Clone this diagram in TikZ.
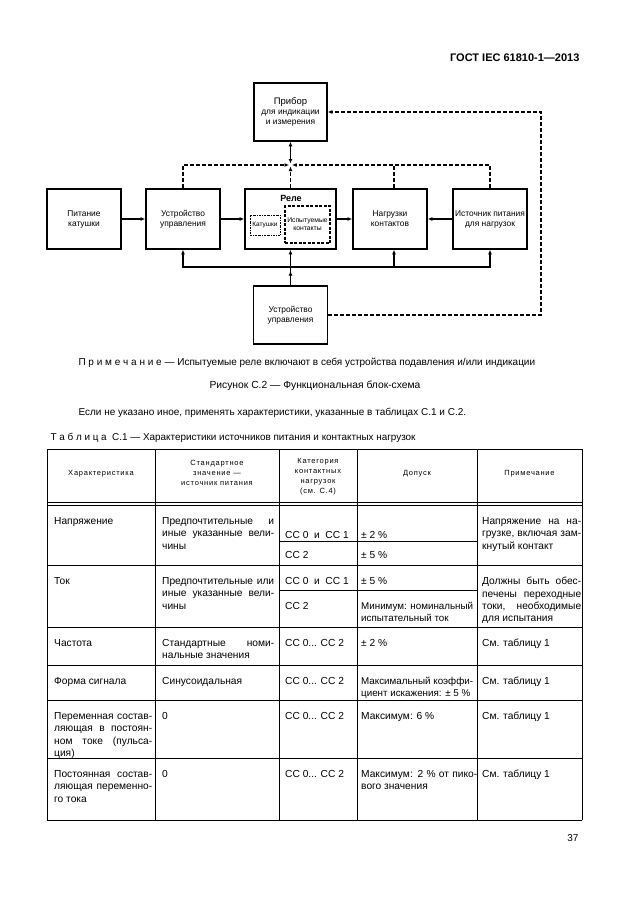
\documentclass[tikz,border=0pt]{standalone}
\usepackage{fontspec}
\setmainfont{Liberation Sans}
\newfontfamily\hdrfont[LetterSpace=10]{Liberation Sans}
\usetikzlibrary{arrows.meta}
\tolerance=9999
\hyphenpenalty=10000
\tikzstyle{blk}=[draw=black,line width=1.7pt,minimum width=74,minimum height=60,
                 inner sep=1pt,align=center,font=\fontsize{8.4}{10}\selectfont]
\tikzstyle{link}=[line width=1.5pt,-{Latex[length=4.5pt,width=4pt]}]
\tikzstyle{dlink}=[line width=1.2pt,dash pattern=on 4pt off 2pt,
                   -{Latex[length=4.5pt,width=4pt]}]
\tikzstyle{cell}=[anchor=north west,inner sep=0pt,align=justify,
                  font=\fontsize{10.2}{12.4}\selectfont]
\tikzstyle{hcell}=[inner sep=0pt,align=center,
                   font=\hdrfont\fontsize{7.5}{10}\selectfont]
\tikzstyle{rule}=[line width=0.8pt]

\begin{document}
\begin{tikzpicture}[x=1pt,y=-1pt]
  \fill[white] (0,0) rectangle (630,913);
  \useasboundingbox (0,0) rectangle (630,913);
  % page head
  \node (head) at (583,61) [anchor=base east,font=\bfseries\fontsize{11}{13}\selectfont]
        {ГОСТ IEC 61810-1—2013};
  % block diagram
  \node (pitanie) at (84,219)    [blk] {Питание\\катушки};
  \node (ustr)    at (183,219)   [blk] {Устройство\\управления};
  \node (rele)    at (290.5,219) [blk,minimum width=91] {};
  \node (nagr)    at (390,219)   [blk] {Нагрузки\\контактов};
  \node (istoch)  at (490,219)   [blk] {Источник питания\\для нагрузок};
  \node (pribor)  at (290.5,112) [blk,minimum width=73,minimum height=58]
        {{\fontsize{9.5}{11}\selectfont Прибор}\\для индикации\\и измерения};
  \node (upr)     at (290.5,315) [blk,minimum height=58] {Устройство\\управления};
  \node (relename) at (291,198) [font=\bfseries\fontsize{9}{10}\selectfont] {Реле};
  \node (katush) at (265,225) [draw,line width=0.9pt,
        dash pattern=on 2pt off 1pt on 0.6pt off 1pt,minimum width=30,
        minimum height=20,inner sep=0pt,font=\fontsize{6.5}{7.5}\selectfont] {Катушки};
  \node (ispyt) at (307.5,224.5) [draw,line width=1.1pt,dash pattern=on 3pt off 1.5pt,
        minimum width=45,minimum height=37,inner sep=0pt,align=center,
        font=\fontsize{6.8}{8}\selectfont] {Испытуемые\\контакты};
  % main line
  \draw[link] (pitanie) -- (ustr);
  \draw[link] (ustr) -- (rele);
  \draw[link] (rele) -- (nagr);
  \draw[link] (istoch) -- (nagr);
  % dashed top bus
  \coordinate (tj) at (290.5,165);
  \draw[dlink] (ustr.north) |- ([xshift=-1.5pt]tj);
  \draw[dlink] (istoch.north) |- ([xshift=1.5pt]tj);
  \draw[dlink,-] ([xshift=4pt]nagr.north) -- ([xshift=4pt]nagr.north |- tj);
  \draw[dlink] (rele.north) -- ([yshift=-1.5pt]tj);
  \draw[link,{Latex[length=4.5pt,width=4pt]}-{Latex[length=4.5pt,width=4pt]}]
        (pribor.south) -- ([yshift=1.5pt]tj);
  \coordinate (rc) at (541,112);
  \draw[dlink] (upr.east) -| (rc) -- (pribor.east);
  % solid bottom bus
  \coordinate (bj) at (290.5,267);
  \draw[link] (upr) -- (rele);
  \draw[link] (upr.north) -- ([yshift=-4pt]bj);
  \draw[link] (bj) -| (ustr.south);
  \draw[link] (bj) -| ([xshift=4pt]nagr.south);
  \draw[link] (bj) -| (istoch.south);
  % texts under the figure
  \node (note) at (75,365) [anchor=base west,font=\fontsize{10}{12}\selectfont]
        {П р и м е ч а н и е — Испытуемые реле включают в себя устройства подавления и/или индикации};
  \node (caption) at (315,388) [anchor=base,font=\fontsize{10.3}{12}\selectfont]
        {Рисунок С.2 — Функциональная блок-схема};
  \node (remark) at (75,415) [anchor=base west,font=\fontsize{10}{12}\selectfont]
        {Если не указано иное, применять характеристики, указанные в таблицах С.1 и С.2.};
  \node (tabname) at (47,440) [anchor=base west,font=\fontsize{9.9}{12}\selectfont]
        {Т а б л и ц а \ С.1 — Характеристики источников питания и контактных нагрузок};
  % table rules
  \draw[rule] (47,449) -- (582,449);
  \draw[rule] (47,502) -- (582,502);
  \draw[rule] (47,505) -- (582,505);
  \draw[rule] (47,565) -- (582,565);
  \draw[rule] (47,627) -- (582,627);
  \draw[rule] (47,665) -- (582,665);
  \draw[rule] (47,700) -- (582,700);
  \draw[rule] (47,758) -- (582,758);
  \draw[rule] (47,820) -- (582,820);
  \draw[rule] (279,541) -- (477,541);
  \draw[rule] (279,590) -- (477,590);
  \draw[rule] (47,449) -- (47,820);
  \draw[rule] (155,449) -- (155,820);
  \draw[rule] (279,449) -- (279,820);
  \draw[rule] (357,449) -- (357,820);
  \draw[rule] (477,449) -- (477,820);
  \draw[rule] (582,449) -- (582,820);
  % table head
  \node (h1) at (101,474)   [hcell] {Характеристика};
  \node (h2) at (217,473)   [hcell] {Стандартное\\значение —\\источник питания};
  \node (h3) at (318,477)   [hcell] {Категория\\контактных\\нагрузок\\(см. С.4)};
  \node (h4) at (417,474)   [hcell] {Допуск};
  \node (h5) at (529.5,474) [hcell] {Примечание};
  % voltage
  \node (a1)  at (54,517)  [cell,text width=98]  {Напряжение};
  \node (a2)  at (162,517) [cell,text width=112] {Предпочтительные и\linebreak иные указанные вели-\linebreak чины};
  \node (a3)  at (285,531) [cell,text width=68]  {СС 0\ \ и\ \ СС 1};
  \node (a4)  at (361,531) [cell,text width=116] {± 2 \%};
  \node (a3b) at (285,551) [cell,text width=68]  {СС 2};
  \node (a4b) at (361,551) [cell,text width=116] {± 5 \%};
  \node (a5)  at (482,517) [cell,text width=99]  {Напряжение на на-\linebreak грузке, включая зам-\linebreak кнутый контакт};
  % current
  \node (b1)  at (54,577)  [cell,text width=98]  {Ток};
  \node (b2)  at (162,577) [cell,text width=112] {Предпочтительные или\linebreak иные указанные вели-\linebreak чины};
  \node (b3)  at (285,577) [cell,text width=68]  {СС 0\ \ и\ \ СС 1};
  \node (b4)  at (361,577) [cell,text width=116] {± 5 \%};
  \node (b3b) at (285,602) [cell,text width=68]  {СС 2};
  \node (b4b) at (361,602) [cell,text width=113,font=\fontsize{9.8}{12.4}\selectfont]
        {\mbox{Минимум: номинальный}\linebreak испытательный ток};
  \node (b5)  at (482,577) [cell,text width=99]  {Должны быть обес-\linebreak печены переходные\linebreak токи, необходимые\linebreak для испытания};
  % frequency
  \node (c1) at (54,639)  [cell,text width=98]  {Частота};
  \node (c2) at (162,639) [cell,text width=112] {Стандартные номи-\linebreak нальные значения};
  \node (c3) at (285,639) [cell,text width=68]  {СС 0... СС 2};
  \node (c4) at (361,639) [cell,text width=116] {± 2 \%};
  \node (c5) at (482,639) [cell,text width=99]  {См. таблицу 1};
  % waveform
  \node (d1) at (54,677)  [cell,text width=98]  {Форма сигнала};
  \node (d2) at (162,677) [cell,text width=112] {Синусоидальная};
  \node (d3) at (285,677) [cell,text width=68]  {СС 0... СС 2};
  \node (d4) at (361,677) [cell,text width=113,font=\fontsize{9.8}{12.4}\selectfont]
        {\mbox{Максимальный коэффи-}\linebreak циент искажения: ± 5 \%};
  \node (d5) at (482,677) [cell,text width=99]  {См. таблицу 1};
  % ripple
  \node (e1) at (54,712)  [cell,text width=98]  {Переменная состав-\linebreak ляющая в постоян-\linebreak ном токе (пульса-\linebreak ция)};
  \node (e2) at (162,712) [cell,text width=112] {0};
  \node (e3) at (285,712) [cell,text width=68]  {СС 0... СС 2};
  \node (e4) at (361,712) [cell,text width=116] {Максимум: 6 \%};
  \node (e5) at (482,712) [cell,text width=99]  {См. таблицу 1};
  % dc component
  \node (f1) at (54,770)  [cell,text width=98]  {Постоянная состав-\linebreak ляющая переменно-\linebreak го тока};
  \node (f2) at (162,770) [cell,text width=112] {0};
  \node (f3) at (285,770) [cell,text width=68]  {СС 0... СС 2};
  \node (f4) at (361,770) [cell,text width=116] {Максимум: 2 \% от пико-\linebreak вого значения};
  \node (f5) at (482,770) [cell,text width=99]  {См. таблицу 1};
  % page number
  \node (pagenum) at (582,841) [anchor=base east,font=\fontsize{10}{12}\selectfont] {37};
\end{tikzpicture}
\end{document}
